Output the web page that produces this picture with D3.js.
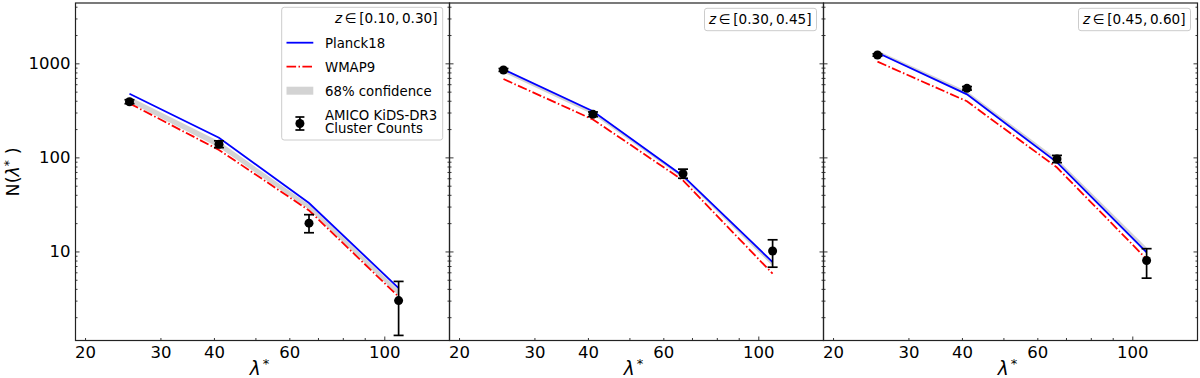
<!DOCTYPE html>
<html>
<head>
<meta charset="utf-8">
<script src="https://cdn.jsdelivr.net/npm/d3@7"></script>
<style>
  body { margin: 0; background: #fff; }
  text { font-family: "DejaVu Sans", sans-serif; fill: #000; }
</style>
</head>
<body>
<script>
var w = 1200, h = 378,
    plotTop = 3, plotBottom = 340.5,
    panelW = 374,
    panelLeft = [75.5, 449.5, 823.5];

// richness bins (x) shared by every panel
var lambdaMid = [25.4, 41.1, 66.7, 108];
var zBins = ["[0.10, 0.30]", "[0.30, 0.45]", "[0.45, 0.60]"];

// observed counts and 1-sigma range
var counts = [[390, 138, 20, 3.0], [850, 287, 67, 10.1], [1226, 542, 96, 8.0]];
var countLo = [[372, 127, 15.8, 1.28], [822, 271, 60, 6.8], [1192, 520, 88, 5.2]];
var countHi = [[410, 150, 24.6, 4.8], [880, 304, 75, 13.3], [1262, 566, 105, 10.7]];

// model predictions
var planck18 = [[475, 162, 32.7, 4.08], [860, 309, 63.5, 7.7], [1297, 468, 88.5, 9.8]];
var wmap9 = [[375, 120, 27.3, 3.3], [681, 253, 57, 5.8], [1042, 395, 78, 8.3]];
var bandLo = [[385, 127, 28, 3.4], [800, 285, 60, 7.0], [1300, 470, 89, 9.9]];
var bandHi = [[440, 148, 31.5, 3.9], [850, 305, 63, 7.6], [1370, 505, 97, 11]];

var xTickLabels = [20, 30, 40, 60, 100];
var xMinor = [50, 70, 80, 90];
var yTickLabels = [10, 100, 1000];

var svg = d3.select("body")
    .append("svg")
    .attr("width", w)
    .attr("height", h)

var x = d3.scaleLog().domain([19, 142]).range([0, panelW])
var y = d3.scaleLog().domain([1.13, 4380]).range([plotBottom, plotTop])

var yMinor = []
;[1, 10, 100, 1000].forEach(function (d) {
    for (var k = 2; k <= 9; k++) if (d * k < 4380 && d * k > 1.13) yMinor.push(d * k)
})

var line = d3.line().x(function (d) { return x(d.x) }).y(function (d) { return y(d.y) })
var area = d3.area().x(function (d) { return x(d.x) })
    .y0(function (d) { return y(d.lo) }).y1(function (d) { return y(d.hi) })

zBins.forEach(function (zb, p) {
    var g = svg.append("g").attr("transform", "translate(" + panelLeft[p] + ",0)")

    // confidence band
    g.append("path")
        .datum(lambdaMid.map(function (l, i) { return { x: l, lo: bandLo[p][i], hi: bandHi[p][i] } }))
        .attr("d", area)
        .attr("fill", "#d3d3d3")

    g.append("path")
        .datum(lambdaMid.map(function (l, i) { return { x: l, y: planck18[p][i] } }))
        .attr("d", line)
        .attr("fill", "none").attr("stroke", "#0000ff").attr("stroke-width", 1.8)

    g.append("path")
        .datum(lambdaMid.map(function (l, i) { return { x: l, y: wmap9[p][i] } }))
        .attr("d", line)
        .attr("fill", "none").attr("stroke", "#ff0000").attr("stroke-width", 1.8)
        .attr("stroke-dasharray", "9.6,2.4,1.5,2.4")

    // data with error bars
    var pts = g.selectAll(".pt").data(lambdaMid.map(function (l, i) {
        return { x: l, y: counts[p][i], lo: countLo[p][i], hi: countHi[p][i] }
    })).enter().append("g").attr("class", "pt")
    pts.append("line")
        .attr("x1", function (d) { return x(d.x) }).attr("x2", function (d) { return x(d.x) })
        .attr("y1", function (d) { return y(d.lo) }).attr("y2", function (d) { return y(d.hi) })
        .attr("stroke", "#000").attr("stroke-width", 1.7)
    ;["lo", "hi"].forEach(function (k) {
        pts.append("line")
            .attr("x1", function (d) { return x(d.x) - 5 }).attr("x2", function (d) { return x(d.x) + 5 })
            .attr("y1", function (d) { return y(d[k]) }).attr("y2", function (d) { return y(d[k]) })
            .attr("stroke", "#000").attr("stroke-width", 1.7)
    })
    pts.append("circle")
        .attr("cx", function (d) { return x(d.x) }).attr("cy", function (d) { return y(d.y) })
        .attr("r", 4.5).attr("fill", "#000")

    // axes: ticks pointing inward
    var xa = g.append("g").attr("transform", "translate(0," + plotBottom + ")")
        .call(d3.axisBottom(x).tickValues(xTickLabels).tickSize(-2.5).tickPadding(6)
            .tickFormat(d3.format("d")))
    xa.selectAll("text").attr("font-size", 16.5).attr("font-family", "DejaVu Sans")
    xa.selectAll(".tick line").filter(function (d) { return d === 100 }).attr("y2", -4)
    g.append("g").attr("transform", "translate(0," + plotBottom + ")")
        .call(d3.axisBottom(x).tickValues(xMinor).tickSize(-2.5).tickFormat(""))

    var ya = g.append("g")
        .call(d3.axisLeft(y).tickValues(yTickLabels).tickSize(-4).tickPadding(5)
            .tickFormat(p === 0 ? d3.format("d") : ""))
    ya.selectAll("text").attr("font-size", 16.5).attr("font-family", "DejaVu Sans")
    g.append("g").call(d3.axisLeft(y).tickValues(yMinor).tickSize(-2).tickFormat(""))
    g.append("g").attr("transform", "translate(" + panelW + ",0)")
        .call(d3.axisRight(y).tickValues(yTickLabels).tickSize(-4).tickFormat(""))
    g.append("g").attr("transform", "translate(" + panelW + ",0)")
        .call(d3.axisRight(y).tickValues(yMinor).tickSize(-2).tickFormat(""))
    g.selectAll(".domain").remove()
    g.selectAll(".tick line").attr("stroke", "#222").attr("stroke-width", 0.9)

    g.append("rect")
        .attr("x", 0).attr("y", plotTop).attr("width", panelW).attr("height", plotBottom - plotTop)
        .attr("fill", "none").attr("stroke", "#222").attr("stroke-width", 1.2)

    // x label
    var xl = g.append("text").attr("x", panelW / 2 - 3).attr("y", 375)
        .attr("text-anchor", "middle").attr("font-size", 18.5)
    xl.append("tspan").attr("font-style", "italic").text("λ")
    xl.append("tspan").attr("dx", 2).attr("dy", -7).attr("font-size", 13).text("*")

    // legend
    var leg = g.append("g")
    var bx = 255, bw = 112, bh = p === 0 ? 132.7 : 22.4, by = p === 0 ? 7.3 : 8.3
    if (p === 0) { bx = 206.2; bw = 161 }
    leg.append("rect").attr("x", bx).attr("y", by).attr("width", bw).attr("height", bh)
        .attr("rx", 2.5).attr("fill", "#fff").attr("fill-opacity", 0.8)
        .attr("stroke", "#cccccc").attr("stroke-width", 1)
    var tt = leg.append("text").attr("x", 362).attr("y", by + 16)
        .attr("text-anchor", "end").attr("font-size", 13.6)
    tt.append("tspan").attr("font-style", "italic").text("z")
    tt.append("tspan").text("\u2009\u2208\u2009" + zb.replace(", ", ",\u2009"))

    if (p === 0) {
        var hx0 = 211, hx1 = 237.8, tx = 249.5
        leg.append("line").attr("x1", hx0).attr("x2", hx1).attr("y1", 42.7).attr("y2", 42.7)
            .attr("stroke", "#0000ff").attr("stroke-width", 1.8)
        leg.append("line").attr("x1", hx0).attr("x2", hx1).attr("y1", 66.7).attr("y2", 66.7)
            .attr("stroke", "#ff0000").attr("stroke-width", 1.8).attr("stroke-dasharray", "9.6,2.4,1.5,2.4")
        leg.append("rect").attr("x", hx0).attr("y", 86.7).attr("width", hx1 - hx0).attr("height", 8)
            .attr("fill", "#d3d3d3")
        var ex = (hx0 + hx1) / 2
        leg.append("line").attr("x1", ex).attr("x2", ex).attr("y1", 117).attr("y2", 130)
            .attr("stroke", "#000").attr("stroke-width", 1.7)
        ;[117, 130].forEach(function (cy) {
            leg.append("line").attr("x1", ex - 4.5).attr("x2", ex + 4.5).attr("y1", cy).attr("y2", cy)
                .attr("stroke", "#000").attr("stroke-width", 1.7)
        })
        leg.append("circle").attr("cx", ex).attr("cy", 123.5).attr("r", 4.5).attr("fill", "#000")
        var labels = [["Planck18", 47.5], ["WMAP9", 71.5], ["68% confidence", 95.5],
            ["AMICO KiDS-DR3", 120], ["Cluster Counts", 132.8]]
        labels.forEach(function (d) {
            leg.append("text").attr("x", tx).attr("y", d[1]).attr("font-size", 13.3).text(d[0])
        })
    }
})

// y label
var yl = svg.append("text").attr("transform", "translate(18.5,172) rotate(-90)")
    .attr("text-anchor", "middle").attr("font-size", 17.5)
yl.append("tspan").text("N(")
yl.append("tspan").attr("font-style", "italic").text("λ")
yl.append("tspan").attr("dy", -5.5).attr("font-size", 12.5).text("*")
yl.append("tspan").attr("dy", 5.5).text(" )")
</script>
</body>
</html>
